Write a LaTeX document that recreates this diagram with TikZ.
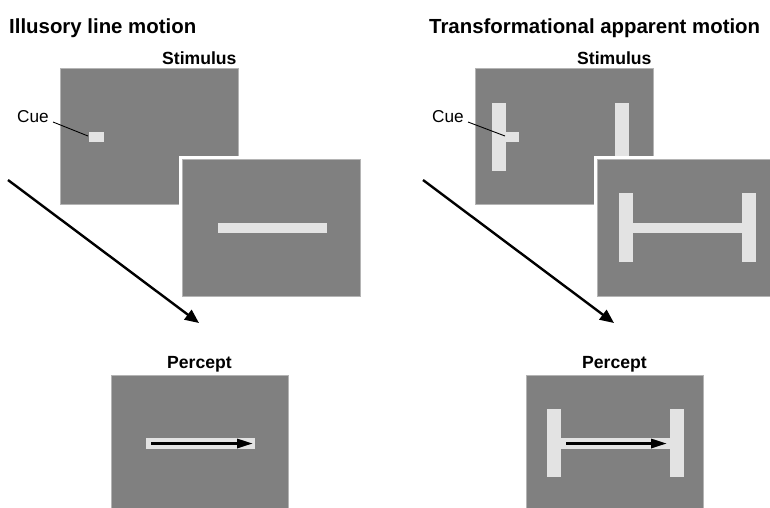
\documentclass[tikz,border=0pt]{standalone}
\usepackage{fontspec}
\setmainfont{Liberation Sans}
\usetikzlibrary{arrows.meta}
\definecolor{boxgray}{HTML}{808080}
\definecolor{boxedge}{HTML}{B4B4B4}
\definecolor{barlight}{HTML}{E3E3E3}
\tikzset{
  panel/.style={fill=boxgray, draw=boxedge, line width=0.7pt},
  gapframe/.style={fill=white},
  bar/.style={fill=barlight, draw=none},
  titletext/.style={anchor=base west, inner sep=0pt, font=\bfseries\fontsize{20.4}{24}\selectfont},
  headtext/.style={anchor=base west, inner sep=0pt, font=\bfseries\fontsize{17.6}{21}\selectfont},
  cuetext/.style={anchor=base west, inner sep=0pt, font=\fontsize{17.2}{20}\selectfont},
  leader/.style={draw=black, line width=0.9pt},
  bigarrow/.style={draw=black, line width=2.4pt, -{Triangle[length=14pt,width=12pt]}},
  pathArrow/.style={draw=black, line width=3pt, -{Triangle[length=16pt,width=9pt]}},
}
\begin{document}
\begin{tikzpicture}[x=1pt,y=-1pt]
\clip (0,0) rectangle (770,507);
\fill[white] (0,0) rectangle (770,507);

% ---------------- Left: Illusory line motion ----------------
\node[titletext] (tL) at (9,33) {Illusory line motion};
\node[headtext] (sL) at (162,64) {Stimulus};
\path[panel] (60,68) rectangle (238,204);
\path[bar] (89,132) rectangle (104,142);
\coordinate (cueL) at (88,136);
\node[cuetext] (cL) at (17,122) {Cue};
\coordinate (cLend) at (53,122);
\draw[leader] (cLend) -- (cueL);
\path[gapframe] (179,156) rectangle (364,300);
\path[panel] (182,159) rectangle (360,296);
\path[bar] (218,223) rectangle (327,233);
\coordinate (aLs) at (8,180);
\coordinate (aLe) at (199,323);
\draw[bigarrow] (aLs) -- (aLe);

\node[headtext] (pL) at (167,368) {Percept};
\path[panel] (111,375) rectangle (288,510);
\path[bar] (146,438) rectangle (255,449);
\coordinate (mLs) at (151,443.5);
\coordinate (mLe) at (253,443.5);
\draw[pathArrow] (mLs) -- (mLe);

% ---------------- Right: Transformational apparent motion ----------------
\node[titletext] (tR) at (429,33) {Transformational apparent motion};
\node[headtext] (sR) at (577,64) {Stimulus};
\path[panel] (475,68) rectangle (653,204);
\path[bar] (492,103) rectangle (506,171);
\path[bar] (506,132) rectangle (519,142);
\path[bar] (615,103) rectangle (629,171);
\coordinate (cueR) at (505,136);
\node[cuetext] (cR) at (432,122) {Cue};
\coordinate (cRend) at (468,122);
\draw[leader] (cRend) -- (cueR);
\path[gapframe] (594,156) rectangle (780,300);
\path[panel] (597,159) rectangle (778,296);
\path[bar] (619,193) rectangle (633,262);
\path[bar] (742,193) rectangle (756,262);
\path[bar] (633,223) rectangle (742,233);
\coordinate (aRs) at (423,180);
\coordinate (aRe) at (614,323);
\draw[bigarrow] (aRs) -- (aRe);

\node[headtext] (pR) at (582,368) {Percept};
\path[panel] (526,375) rectangle (703,510);
\path[bar] (547,409) rectangle (561,477);
\path[bar] (670,409) rectangle (684,477);
\path[bar] (561,438) rectangle (670,449);
\coordinate (mRs) at (566,443.5);
\coordinate (mRe) at (667,443.5);
\draw[pathArrow] (mRs) -- (mRe);
\end{tikzpicture}
\end{document}
